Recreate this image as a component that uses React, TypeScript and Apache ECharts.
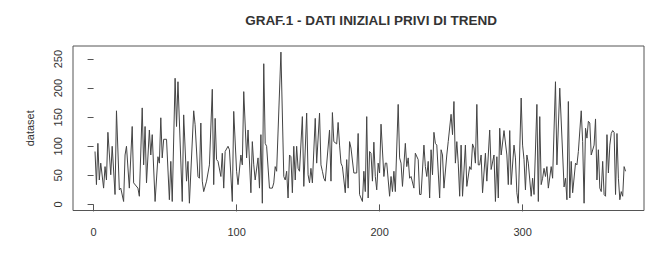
import React, { useEffect, useRef } from "react";
import * as echarts from "echarts";

const title = "GRAF.1 - DATI INIZIALI PRIVI DI TREND";
const yName = "dataset";
const xTicks = [0, 100, 200, 300];
const yTicks = [0, 50, 100, 150, 200, 250];

const t = [
  1, 2, 3, 4, 5, 7, 8, 9, 10, 12, 13, 15, 16, 18, 19, 21, 22, 23, 25, 27, 28, 31, 32, 34, 35, 36, 37, 39, 40, 41, 43, 45, 46, 47, 48, 49, 51, 53, 54, 55, 57, 58, 59, 62, 63,
  65, 66, 67, 70, 71, 73, 74, 75, 76, 77, 79, 81, 83, 84, 85, 86, 87, 89, 90, 91, 92, 94, 95, 97, 98, 100, 101, 103, 104, 105, 107, 108, 110, 111, 112, 113, 115, 116, 117, 118, 119, 120, 121, 123, 125, 126, 127, 128,
  131, 133, 134, 135, 136, 137, 138, 139, 140, 141, 142, 143, 144, 146, 147, 149, 150, 151, 152, 153, 155, 156, 158, 159, 160, 161, 162, 165, 166, 167, 168, 170, 171, 172, 173, 174, 176, 177, 178, 179, 180, 182, 184, 185, 186, 188, 189, 190, 191, 192,
  193, 194, 195, 196, 197, 198, 199, 200, 201, 203, 204, 205, 207, 208, 209, 210, 211, 213, 214, 215, 216, 218, 219, 220, 221, 222, 224, 225, 227, 228, 229, 231, 232, 233, 234, 235, 236, 237, 238, 239, 240, 242, 243, 244, 245, 247, 248, 250, 251, 252, 253, 254, 255, 256, 257, 258, 260, 261,
  263, 264, 265, 266, 267, 268, 269, 270, 271, 272, 274, 275, 277, 278, 280, 281, 282, 283, 284, 285, 287, 289, 290, 291, 292, 294, 295, 296, 297, 299, 300, 301, 302, 303, 304, 306, 307, 308, 310, 311, 312, 313, 314, 315, 316, 317, 318, 320, 321, 323, 324, 326,
  329, 330, 331, 332, 333, 334, 335, 337, 338, 339, 341, 342, 343, 344, 345, 346, 347, 348, 350, 351, 352, 353, 354, 355, 356, 357, 358, 359, 360, 361, 362, 363, 364, 365, 366, 367, 368, 369, 370, 371, 372,
];
const dataset = [
  91, 34, 105, 42, 71, 28, 65, 42, 124, 51, 100, 17, 161, 25, 28, 5, 85, 100, 28, 134, 37, 28, 14, 166, 68, 134, 37, 128, 85, 120, 5, 82, 71, 149, 80, 112, 112, 8, 74, 5, 217, 134, 211, 5, 154,
  40, 74, 2, 161, 137, 48, 45, 140, 40, 22, 40, 68, 198, 34, 148, 77, 74, 48, 88, 28, 91, 100, 94, 5, 160, 57, 34, 85, 68, 194, 80, 128, 20, 108, 68, 42, 80, 28, 120, 2, 242, 105, 100, 28, 28, 37, 65, 57,
  262, 48, 42, 57, 11, 85, 82, 20, 100, 42, 100, 62, 57, 151, 31, 157, 51, 37, 62, 37, 148, 71, 157, 68, 57, 45, 40, 128, 40, 158, 108, 104, 141, 102, 71, 65, 20, 77, 28, 108, 97, 54, 54, 122, 17, 5, 57, 22, 151, 11,
  91, 88, 40, 107, 48, 25, 71, 54, 138, 48, 71, 71, 14, 48, 22, 57, 22, 172, 80, 71, 31, 105, 65, 80, 45, 48, 28, 88, 77, 17, 17, 102, 65, 48, 74, 11, 94, 51, 124, 105, 102, 11, 94, 85, 28, 85, 108, 155, 120, 177, 71, 108, 71, 14, 102, 14, 102, 31,
  65, 60, 104, 97, 71, 172, 68, 68, 85, 20, 88, 40, 128, 60, 85, 5, 82, 11, 131, 85, 127, 85, 34, 127, 34, 102, 80, 20, 2, 183, 102, 77, 25, 85, 71, 14, 45, 17, 172, 5, 151, 34, 45, 62, 48, 65, 28, 65, 45, 211, 68, 200,
  30, 45, 8, 177, 11, 74, 20, 71, 68, 91, 161, 108, 2, 131, 114, 143, 140, 85, 102, 147, 42, 94, 28, 22, 74, 17, 14, 120, 54, 102, 122, 127, 124, 17, 122, 45, 8, 22, 14, 65, 57,
];

export default function App() {
  const ref = useRef<HTMLDivElement>(null);
  useEffect(() => {
    document.body.style.margin = "0";
    const chart = echarts.init(ref.current!, null, { renderer: "svg" });
    const font = "'Liberation Sans', Arial, sans-serif";
    chart.setOption({
      animation: false,
      backgroundColor: "#ffffff",
      textStyle: { fontFamily: font },
      graphic: [
        {
          type: "text",
          x: 371,
          y: 20,
          style: {
            text: title,
            font: `bold 13.5px ${font}`,
            fill: "#333",
            textAlign: "center",
            textVerticalAlign: "middle",
          },
        },
      ],
      grid: {
        left: 73,
        right: 1,
        top: 46,
        bottom: 44.5,
        show: true,
        borderColor: "#555",
        borderWidth: 1,
        backgroundColor: "transparent",
      },
      xAxis: {
        type: "value",
        min: -14.4,
        max: 384.9,
        splitLine: { show: false },
        axisLine: { show: false },
        axisTick: { show: true, customValues: xTicks, length: 7, inside: false, lineStyle: { color: "#555" } },
        axisLabel: { customValues: xTicks, margin: 16, color: "#333", fontSize: 11, fontFamily: font },
      },
      yAxis: {
        type: "value",
        min: -10.5,
        max: 272.5,
        name: yName,
        nameLocation: "middle",
        nameGap: 38,
        nameRotate: 90,
        nameTextStyle: { color: "#333", fontSize: 11, fontFamily: font },
        splitLine: { show: false },
        axisLine: { show: false },
        axisTick: { show: true, customValues: yTicks, length: 6, inside: false, lineStyle: { color: "#555" } },
        axisLabel: { customValues: yTicks, rotate: 90, margin: 10, color: "#333", fontSize: 11, fontFamily: font },
      },
      series: [
        {
          type: "line",
          data: t.map((x, i) => [x, dataset[i]]),
          symbol: "none",
          lineStyle: { color: "#444", width: 1 },
        },
      ],
    });
    return () => chart.dispose();
  }, []);
  return <div ref={ref} style={{ width: 645, height: 255 }} />;
}
